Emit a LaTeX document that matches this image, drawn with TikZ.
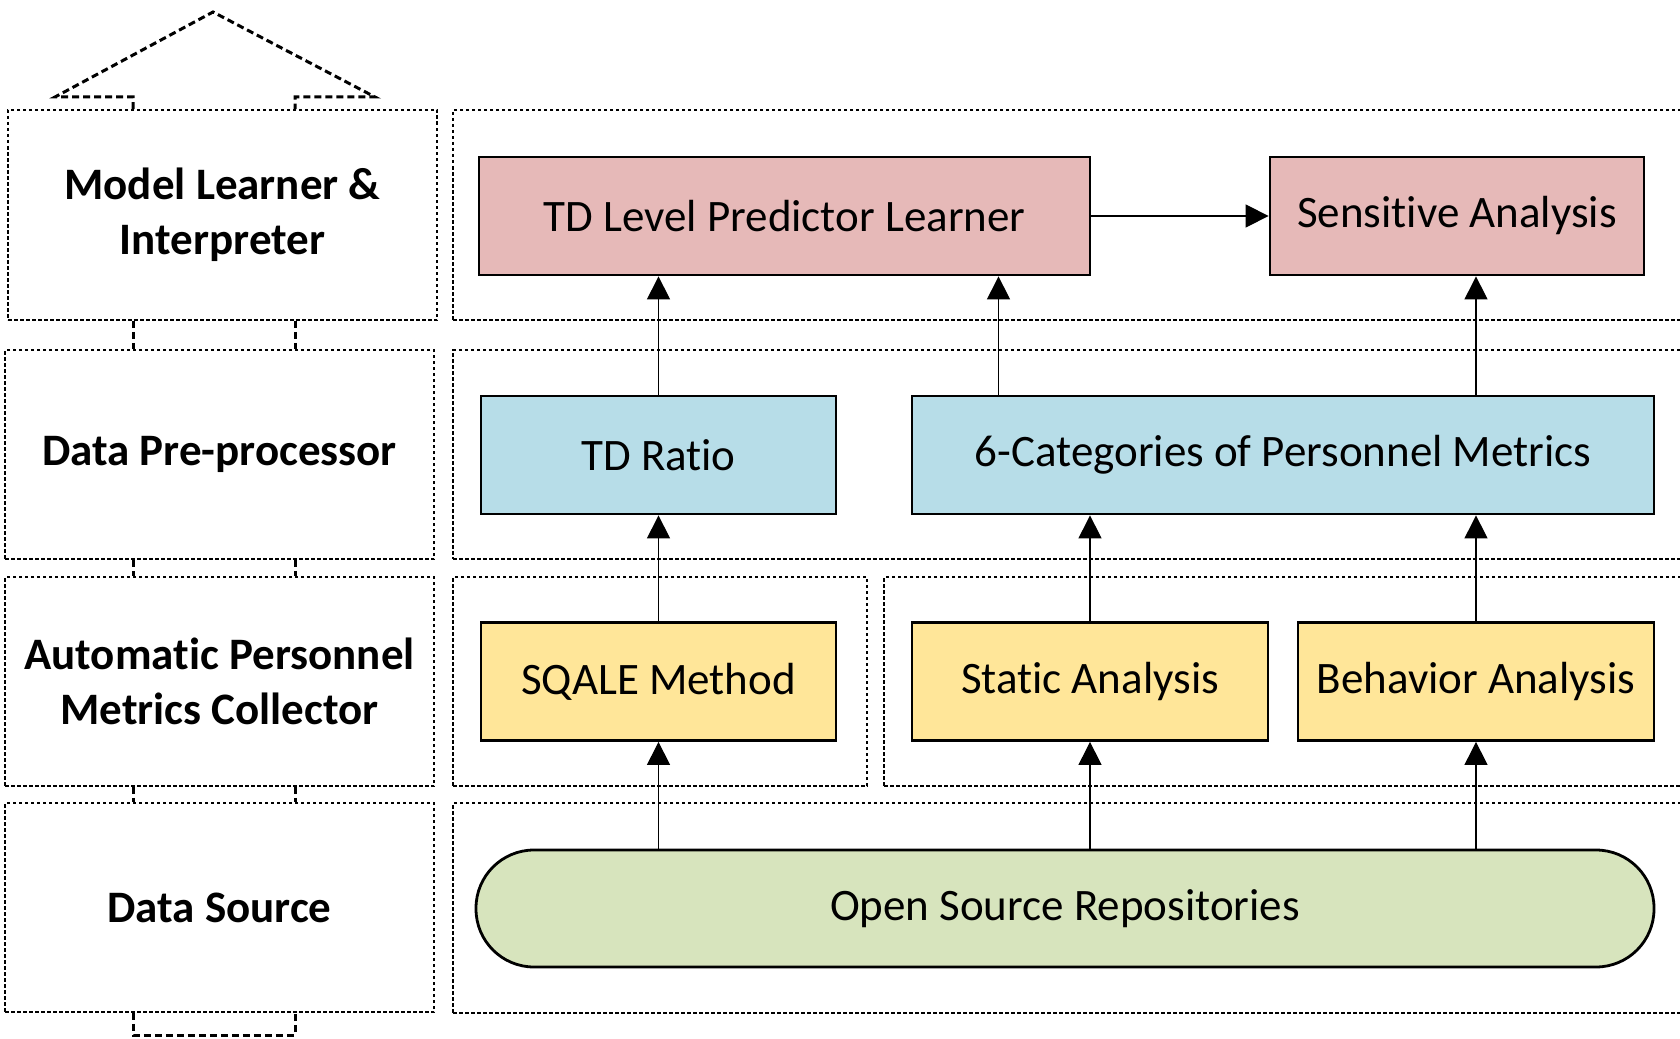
\documentclass[tikz,border=0pt]{standalone}
\usepackage{fontspec}
\setmainfont{Carlito}[Ligatures={NoCommon,NoContextual,NoRare},Contextuals={NoAlternate}]
\usetikzlibrary{arrows.meta}
\definecolor{pinkc}{HTML}{E6B9B8}
\definecolor{bluec}{HTML}{B7DDE8}
\definecolor{yellowc}{HTML}{FFE699}
\definecolor{greenc}{HTML}{D7E4BD}
\begin{document}
\begin{tikzpicture}[x=1pt,y=-1pt,
 layer/.style={draw, line width=1.8pt, dash pattern=on 3.5pt off 2.5pt, rectangle, inner sep=0pt},
 lab/.style={font=\fontsize{45}{55}\selectfont\bfseries, align=center},
 blk/.style={draw, line width=2.8pt, font=\fontsize{45}{54}\selectfont, inner sep=0pt, minimum height=118pt},
 link/.style={line width=3pt, dash pattern=on 7pt off 4pt},
 arr/.style={line width=1.2pt, -{Triangle[length=23pt,width=23pt]}}
]
\clip (0,0) rectangle (1680,1038);
% layer boxes (left)
\node[layer, minimum width=429pt, minimum height=210pt] (L1) at (222.5,215) {};
\node[layer, minimum width=429pt, minimum height=209pt] (L2) at (219.5,454.5) {};
\node[layer, minimum width=429pt, minimum height=209pt] (L3) at (219.5,681.5) {};
\node[layer, minimum width=429pt, minimum height=209pt] (L4) at (219.5,907.5) {};
\node[lab] (t1) at (L1) {Model Learner \&\\Interpreter};
\node[lab] (t2) at (L2) {Data Pre-processor};
\node[lab] (t3) at (L3) {Automatic Personnel\\Metrics Collector};
\node[lab] (t4) at (L4) {Data Source};
% layer boxes (right)
\node[layer, minimum width=1247pt, minimum height=210pt] (R1) at (1076.5,215) {};
\node[layer, minimum width=1247pt, minimum height=209pt] (R2) at (1076.5,454.5) {};
\node[layer, minimum width=414pt, minimum height=209pt] (R3a) at (660,681.5) {};
\node[layer, minimum width=816pt, minimum height=209pt] (R3b) at (1292,681.5) {};
\node[layer, minimum width=1247pt, minimum height=210pt] (R4) at (1076.5,908) {};
% stubs between left boxes
\coordinate (s1) at (133,0);
\coordinate (s2) at (295,0);
\draw[link] (L1.south -| s1) -- (L2.north -| s1);
\draw[link] (L1.south -| s2) -- (L2.north -| s2);
\draw[link] (L2.south -| s1) -- (L3.north -| s1);
\draw[link] (L2.south -| s2) -- (L3.north -| s2);
\draw[link] (L3.south -| s1) -- (L4.north -| s1);
\draw[link] (L3.south -| s2) -- (L4.north -| s2);
% roof
\coordinate (apex) at (213,12);
\coordinate (rl) at (55,97);
\coordinate (rr) at (375,97);
\draw[link] (L1.north -| s1) -- (s1 |- rl) -- (rl) -- (apex) -- (rr) -- (s2 |- rr) -- (L1.north -| s2);
% bottom bracket
\coordinate (bb) at (0,1035);
\draw[link] (L4.south -| s1) -- (s1 |- bb) -- (s2 |- bb) -- (L4.south -| s2);
% blocks
\node[blk, fill=pinkc, minimum width=611pt] (tdl) at (784.5,216) {TD Level Predictor Learner};
\node[blk, fill=pinkc, minimum width=374pt] (sens) at (1457,216) {Sensitive Analysis};
\node[blk, fill=bluec, minimum width=355pt] (tdr) at (658.5,455) {TD Ratio};
\node[blk, fill=bluec, minimum width=742pt] (cat) at (1283,455) {6-Categories of Personnel Metrics};
\node[blk, fill=yellowc, minimum width=355pt] (sqale) at (658.5,681.5) {SQALE Method};
\node[blk, fill=yellowc, minimum width=356pt] (stat) at (1090,681.5) {Static Analysis};
\node[blk, fill=yellowc, minimum width=356pt] (beh) at (1476,681.5) {Behavior Analysis};
\node[blk, fill=greenc, minimum width=1178pt, minimum height=117pt, rounded corners=58pt] (osr) at (1065,908.5) {Open Source Repositories};
% arrows
\draw[arr] (sqale.south |- osr.north) -- (sqale.south);
\draw[arr] (stat.south |- osr.north) -- (stat.south);
\draw[arr] (beh.south |- osr.north) -- (beh.south);
\draw[arr] (sqale.north) -- (tdr.south);
\draw[arr] (stat.north) -- (stat.north |- cat.south);
\draw[arr] (beh.north) -- (beh.north |- cat.south);
\draw[arr] (tdr.north) -- (tdr.north |- tdl.south);
\coordinate (c1) at (998.5,0);
\draw[arr] (c1 |- cat.north) -- (c1 |- tdl.south);
\draw[arr] (beh.north |- cat.north) -- (beh.north |- sens.south);
\draw[arr] (tdl.east) -- (sens.west);
\end{tikzpicture}
\end{document}
